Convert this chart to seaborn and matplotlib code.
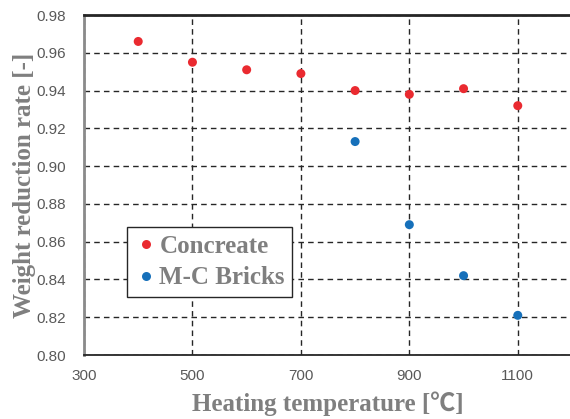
import pandas as pd
import numpy as np
import matplotlib.pyplot as plt
import seaborn as sns
from matplotlib.ticker import AutoMinorLocator, MultipleLocator

# data
temps_concrete = [400, 500, 600, 700, 800, 900, 1000, 1100]
rate_concrete = [0.966, 0.955, 0.951, 0.949, 0.940, 0.938, 0.941, 0.932]
temps_bricks = [800, 900, 1000, 1100]
rate_bricks = [0.913, 0.869, 0.842, 0.821]
series_names = ['Concreate', 'M-C Bricks']

df = pd.DataFrame({
    'temp': temps_concrete + temps_bricks,
    'rate': rate_concrete + rate_bricks,
    'material': [series_names[0]] * len(temps_concrete) + [series_names[1]] * len(temps_bricks),
})

sns.set_theme(style="white")
plt.rcParams['font.family'] = ['Liberation Sans', 'DejaVu Sans']

fig = plt.figure(figsize=(5.7, 4.19), dpi=100)
ax = fig.add_axes([84 / 570, 1 - 355 / 419, (572 - 84) / 570, (355 - 15) / 419])

sns.scatterplot(
    data=df, x='temp', y='rate', hue='material',
    palette=['#EA2A30', '#1670BA'], s=42, edgecolor='none', ax=ax, zorder=3
)

ax.set_xlim(300, 1200)
ax.set_ylim(0.80, 0.98)
ax.xaxis.set_major_locator(MultipleLocator(200))
ax.yaxis.set_major_locator(MultipleLocator(0.02))
ax.yaxis.set_minor_locator(AutoMinorLocator(5))
ax.set_xticks([300, 500, 700, 900, 1100])
ax.set_yticklabels([f'{v:.2f}' for v in ax.get_yticks()])

ax.tick_params(axis='both', which='major', labelsize=11, colors='#595959', length=0)
ax.tick_params(axis='x', which='major', pad=10)
ax.tick_params(axis='y', which='major', pad=13)
ax.tick_params(axis='y', which='minor', direction='in', length=3, color='#909090', width=1)

ax.grid(True, which='major', linestyle=(0, (4, 3)), color='#262626', linewidth=1.0)
ax.set_axisbelow(True)

ax.spines['top'].set_color('#262626')
ax.spines['top'].set_linewidth(2.0)
ax.spines['bottom'].set_color('#262626')
ax.spines['bottom'].set_linewidth(1.3)
ax.spines['left'].set_color('#8a8a8a')
ax.spines['left'].set_linewidth(2.0)
ax.spines['right'].set_visible(False)

label_font = dict(family=['Liberation Serif', 'Noto Sans CJK JP'], fontweight='bold', color='#7f7f7f', fontsize=18)
ax.set_xlabel('Heating temperature [℃]', labelpad=6, **label_font)
ax.set_ylabel('Weight reduction rate [-]', labelpad=0, **label_font)

leg = ax.legend(
    loc='lower left', bbox_to_anchor=(0.088, 0.171), borderaxespad=0, frameon=True, fancybox=False,
    prop=dict(family='Liberation Serif', weight='bold', size=18), handletextpad=0.1,
    borderpad=0.3, labelspacing=0.35, handlelength=0.9, markerscale=1.0
)
leg.get_frame().set_edgecolor('#262626')
leg.get_frame().set_linewidth(1.0)
leg.get_frame().set_alpha(1)
for t in leg.get_texts():
    t.set_color('#7f7f7f')

plt.savefig('out.png', dpi=100)
